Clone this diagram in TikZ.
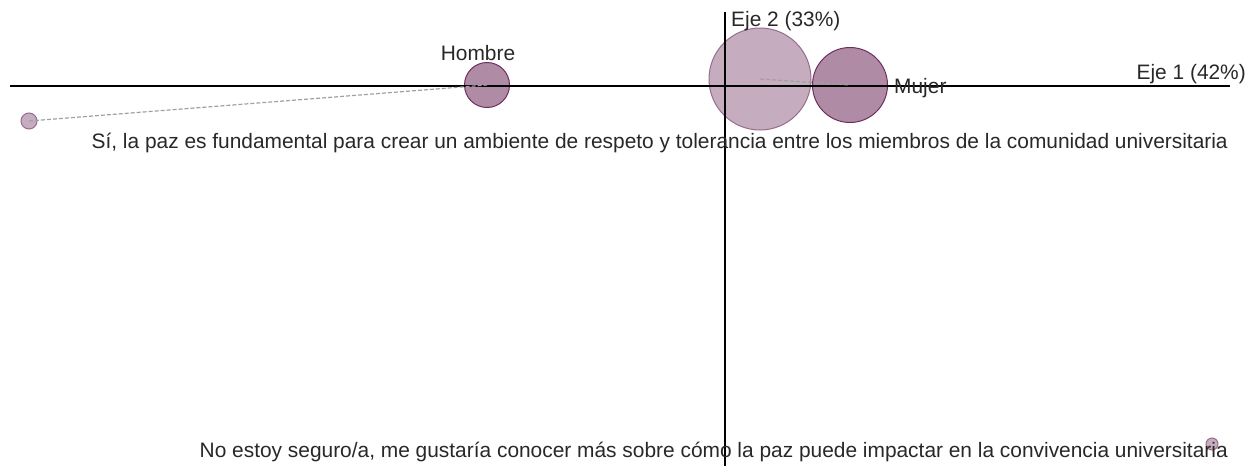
\documentclass[tikz,border=0pt]{standalone}
\usepackage{fontspec}
\setmainfont{Liberation Sans}
\definecolor{bubfill}{RGB}{176,139,166}
\definecolor{bubline}{RGB}{110,45,95}
\definecolor{bigfill}{RGB}{198,172,191}
\definecolor{bigline}{RGB}{150,110,140}
\definecolor{txt}{RGB}{40,40,40}
\definecolor{dashc}{RGB}{160,160,160}
\begin{document}
\begin{tikzpicture}[x=1pt,y=-1pt,
  bub/.style={circle,draw=bubline,fill=bubfill,line width=1pt,inner sep=0pt,minimum size=#1},
  bigbub/.style={circle,draw=bigline,fill=bigfill,line width=1pt,inner sep=0pt,minimum size=#1},
  lbl/.style={font=\fontsize{20.9}{25}\selectfont,text=txt,inner sep=0pt},
  axis/.style={line width=1.2pt,black},
  conn/.style={dashc,line width=1.2pt,dash pattern=on 4pt off 2pt}]
\useasboundingbox (0,0) rectangle (1255,466);
\node[bigbub=102pt] (big) at (760,79) {};
\node[bub=75pt] (mujer) at (850,85) {};
\node[bub=45pt] (hombre) at (487,85) {};
\node[bigbub=16pt] (si) at (29,121) {};
\node[bigbub=12pt] (no) at (1212,444) {};
\coordinate (xl) at (10,86);
\coordinate (xr) at (1230,86);
\coordinate (yt) at (725,12);
\coordinate (yb) at (725,466);
\draw[axis] (xl) -- (xr);
\draw[axis] (yt) -- (yb);
\draw[conn] (si.center) -- (hombre.center);
\draw[conn] (big.center) -- (mujer.center);
\node[lbl] (lh) at (478,53) {Hombre};
\node[lbl,anchor=west] (lm) at (894,88) {Mujer};
\node[lbl,anchor=west] (le2) at (731,21) {Eje 2 (33\%)};
\node[lbl,anchor=east] (le1) at (1246,74) {Eje 1 (42\%)};
\node[lbl,anchor=east] (ls) at (1228,143) {Sí, la paz es fundamental para crear un ambiente de respeto y tolerancia entre los miembros de la comunidad universitaria};
\node[lbl,anchor=east] (ln) at (1228,452) {No estoy seguro/a, me gustaría conocer más sobre cómo la paz puede impactar en la convivencia universitaria};
\end{tikzpicture}
\end{document}
